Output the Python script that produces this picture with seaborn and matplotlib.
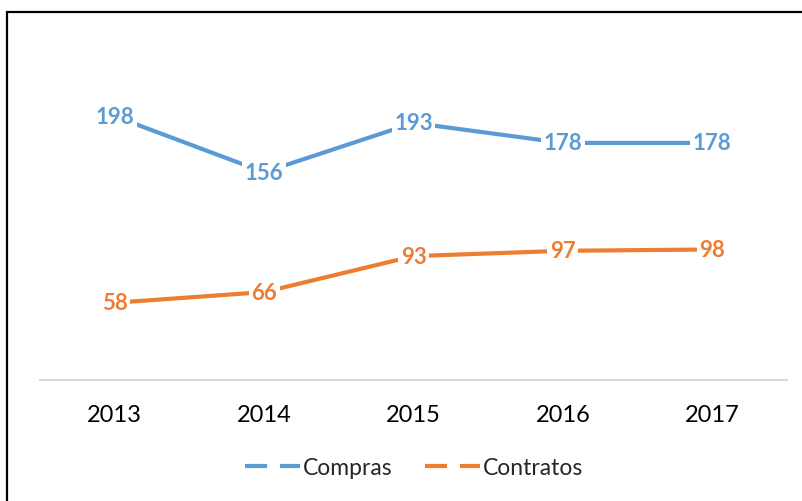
import matplotlib
matplotlib.use("Agg")
import matplotlib.pyplot as plt
import seaborn as sns
import pandas as pd
from matplotlib.patches import Rectangle
from matplotlib.lines import Line2D

years = ["2013", "2014", "2015", "2016", "2017"]
compras = [198, 156, 193, 178, 178]
contratos = [58, 66, 93, 97, 98]
series_names = ["Compras", "Contratos"]
colors = ["#5B9BD5", "#ED7D31"]

df = pd.DataFrame({
    "Año": years * 2,
    "Valor": compras + contratos,
    "Serie": [series_names[0]] * len(years) + [series_names[1]] * len(years),
})

sns.set_theme(style="white")
plt.rcParams["font.family"] = ["Lato", "DejaVu Sans"]

fig = plt.figure(figsize=(8.02, 5.02), dpi=100)
ax = fig.add_axes([40 / 802, 1 - 381 / 502, 747 / 802, 333 / 502])

sns.lineplot(data=df, x="Año", y="Valor", hue="Serie", palette=colors,
             linewidth=3.0, ax=ax, legend=True, sort=False)

ax.set_xlim(-0.5, len(years) - 0.5)
ax.set_ylim(0, 250)
ax.set_yticks([])
ax.set_xlabel("")
ax.set_ylabel("")
for s in ["left", "right", "top"]:
    ax.spines[s].set_visible(False)
ax.spines["bottom"].set_color("#D9D9D9")
ax.spines["bottom"].set_linewidth(1.5)
ax.tick_params(axis="x", length=0, pad=17, labelsize=17, colors="#000000")

for vals, col in zip([compras, contratos], colors):
    for i, v in enumerate(vals):
        ax.text(i, v, str(v), ha="center", va="center", color=col,
                fontsize=16, fontweight="bold", zorder=5,
                bbox=dict(boxstyle="square,pad=0.12", fc="white", ec="none"))

handles = [Line2D([0], [0], color=c, linewidth=3.0, linestyle=(0, (5.3, 3.1)),
                  dash_capstyle="butt")
           for c in colors]
leg = ax.get_legend()
if leg is not None:
    leg.remove()
fig.legend(handles, series_names, loc="center", bbox_to_anchor=(414 / 802, 1 - 469 / 502),
           ncol=2, frameon=False, fontsize=16.5, handlelength=2.4, handletextpad=0.15,
           columnspacing=1.4)

fig.patches.append(Rectangle((7 / 802, -0.1), 1.2, 1.1 - 13 / 502,
                             transform=fig.transFigure, fill=False,
                             edgecolor="black", linewidth=1.6, clip_on=False))

fig.savefig("out.png", dpi=100, facecolor="white")
